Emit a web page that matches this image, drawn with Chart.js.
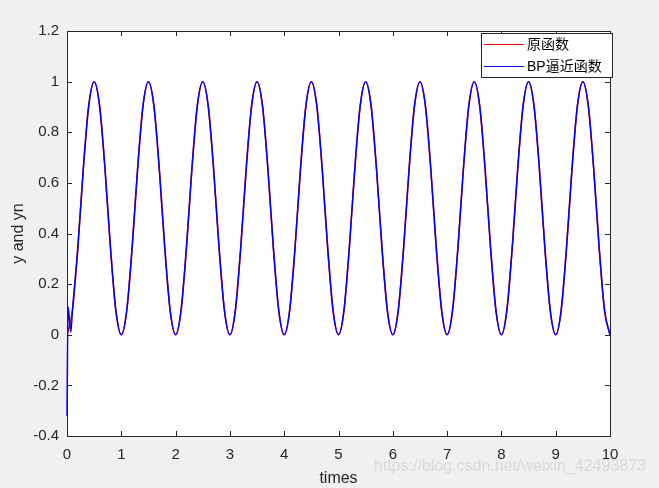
<!DOCTYPE html>
<html>
<head>
<meta charset="utf-8">
<script src="https://cdn.jsdelivr.net/npm/chart.js@4.4.0/dist/chart.umd.min.js"></script>
<style>
  html, body { margin: 0; padding: 0; background: #f0f0f0; }
  #wrap { width: 659px; height: 488px; position: relative; }
</style>
</head>
<body>
<div id="wrap"><canvas id="chart"></canvas></div>
<script>
// sample times (x axis)
const times = [
  0, 0.1, 0.2, 0.3, 0.4, 0.5, 0.6, 0.7, 0.8, 0.9,
  1, 1.1, 1.2, 1.3, 1.4, 1.5, 1.6, 1.7, 1.8, 1.9,
  2, 2.1, 2.2, 2.3, 2.4, 2.5, 2.6, 2.7, 2.8, 2.9,
  3, 3.1, 3.2, 3.3, 3.4, 3.5, 3.6, 3.7, 3.8, 3.9,
  4, 4.1, 4.2, 4.3, 4.4, 4.5, 4.6, 4.7, 4.8, 4.9,
  5, 5.1, 5.2, 5.3, 5.4, 5.5, 5.6, 5.7, 5.8, 5.9,
  6, 6.1, 6.2, 6.3, 6.4, 6.5, 6.6, 6.7, 6.8, 6.9,
  7, 7.1, 7.2, 7.3, 7.4, 7.5, 7.6, 7.7, 7.8, 7.9,
  8, 8.1, 8.2, 8.3, 8.4, 8.5, 8.6, 8.7, 8.8, 8.9,
  9, 9.1, 9.2, 9.3, 9.4, 9.5, 9.6, 9.7, 9.8, 9.9,
  10
];

// original function y (red)
const original = [
  0, 0.095, 0.345, 0.655, 0.905, 1, 0.905, 0.655, 0.345, 0.095,
  0, 0.095, 0.345, 0.655, 0.905, 1, 0.905, 0.655, 0.345, 0.095,
  0, 0.095, 0.345, 0.655, 0.905, 1, 0.905, 0.655, 0.345, 0.095,
  0, 0.095, 0.345, 0.655, 0.905, 1, 0.905, 0.655, 0.345, 0.095,
  0, 0.095, 0.345, 0.655, 0.905, 1, 0.905, 0.655, 0.345, 0.095,
  0, 0.095, 0.345, 0.655, 0.905, 1, 0.905, 0.655, 0.345, 0.095,
  0, 0.095, 0.345, 0.655, 0.905, 1, 0.905, 0.655, 0.345, 0.095,
  0, 0.095, 0.345, 0.655, 0.905, 1, 0.905, 0.655, 0.345, 0.095,
  0, 0.095, 0.345, 0.655, 0.905, 1, 0.905, 0.655, 0.345, 0.095,
  0, 0.095, 0.345, 0.655, 0.905, 1, 0.905, 0.655, 0.345, 0.095,
  0
];

// BP network output (blue): spike at the start, then it follows the original
const bpStartTimes = [0, 0.02, 0.07];
const bpStartValues = [-0.32, 0.11, 0.01];

const seriesNames = ['原函数', 'BP逼近函数'];
const xTickValues = [0, 1, 2, 3, 4, 5, 6, 7, 8, 9, 10];
const yTickValues = [-0.4, -0.2, 0, 0.2, 0.4, 0.6, 0.8, 1, 1.2];

const AXIS = '#262626';
const FONT = '"Liberation Sans", Arial, sans-serif';
const CJK = '"Liberation Sans", "Noto Sans CJK SC", sans-serif';

const originalPts = times.map((t, i) => ({ x: t, y: original[i] }));
const bpPts = bpStartTimes.map((t, i) => ({ x: t, y: bpStartValues[i] }))
  .concat(times.slice(1).map((t, i) => ({ x: t, y: original[i + 1] })));

// white axes box, inward ticks on all four sides, legend and watermark
const matlabLook = {
  id: 'matlabLook',
  beforeDatasetsDraw(chart) {
    const { ctx, chartArea: a, scales } = chart;
    ctx.save();
    ctx.fillStyle = '#ffffff';
    ctx.fillRect(a.left, a.top, a.right - a.left, a.bottom - a.top);
    ctx.strokeStyle = AXIS;
    ctx.lineWidth = 1;
    ctx.strokeRect(Math.round(a.left) + 0.5, Math.round(a.top) + 0.5,
      Math.round(a.right - a.left), Math.round(a.bottom - a.top));
    const tl = 5;
    ctx.beginPath();
    xTickValues.forEach(v => {
      const px = Math.round(scales.x.getPixelForValue(v)) + 0.5;
      ctx.moveTo(px, a.bottom); ctx.lineTo(px, a.bottom - tl);
      ctx.moveTo(px, a.top); ctx.lineTo(px, a.top + tl);
    });
    yTickValues.forEach(v => {
      const py = Math.round(scales.y.getPixelForValue(v)) + 0.5;
      ctx.moveTo(a.left, py); ctx.lineTo(a.left + tl, py);
      ctx.moveTo(a.right, py); ctx.lineTo(a.right - tl, py);
    });
    ctx.stroke();
    ctx.restore();
  },
  afterDraw(chart) {
    const { ctx } = chart;
    ctx.save();
    // legend box
    const lx = 481.5, ly = 33.5, lw = 131, lh = 44;
    ctx.fillStyle = '#ffffff';
    ctx.fillRect(lx, ly, lw, lh);
    ctx.strokeStyle = AXIS;
    ctx.lineWidth = 1;
    ctx.strokeRect(lx, ly, lw, lh);
    ctx.font = '14px ' + CJK;
    ctx.textBaseline = 'middle';
    ctx.textAlign = 'left';
    chart.data.datasets.forEach((ds, i) => {
      const y = 44 + i * 22;
      ctx.strokeStyle = ds.borderColor;
      ctx.beginPath();
      ctx.moveTo(484, y + 0.5); ctx.lineTo(524, y + 0.5);
      ctx.stroke();
      ctx.fillStyle = '#000000';
      ctx.fillText(ds.label, 527, y + 1);
    });

    // watermark
    ctx.font = '16px ' + FONT;
    ctx.fillStyle = 'rgba(210,210,210,0.75)';
    ctx.textAlign = 'right';
    ctx.fillText('https://blog.csdn.net/weixin_42493873', 646, 467);
    ctx.restore();
  }
};

new Chart(document.getElementById('chart'), {
  type: 'line',
  data: {
    datasets: [
      {
        label: seriesNames[0],
        data: originalPts,
        borderColor: '#ff0000',
        borderWidth: 1.5,
        pointRadius: 0,
        cubicInterpolationMode: 'monotone',
        order: 1
      },
      {
        label: seriesNames[1],
        data: bpPts,
        borderColor: '#0000ff',
        borderWidth: 1.5,
        pointRadius: 0,
        cubicInterpolationMode: 'monotone',
        clip: 3,
        order: 0
      }
    ]
  },
  options: {
    responsive: true,
    maintainAspectRatio: false,
    animation: false,
    layout: { padding: { left: 0, top: 31, right: 49, bottom: 0 } },
    plugins: {
      legend: { display: false },
      tooltip: { enabled: false }
    },
    scales: {
      x: {
        type: 'linear',
        min: 0,
        max: 10,
        afterBuildTicks: s => { s.ticks = xTickValues.map(v => ({ value: v })); },
        afterFit: s => { s.height = 52; },
        grid: { display: false, drawTicks: false },
        border: { display: false },
        ticks: { color: AXIS, font: { family: FONT, size: 15 }, padding: 10, maxRotation: 0 },
        title: { display: true, text: 'times', color: AXIS, font: { family: FONT, size: 16 }, padding: { top: 2, bottom: 0 } }
      },
      y: {
        type: 'linear',
        min: -0.4,
        max: 1.2,
        afterBuildTicks: s => { s.ticks = yTickValues.map(v => ({ value: v })); },
        afterFit: s => { s.width = 67; },
        grid: { display: false, drawTicks: false },
        border: { display: false },
        ticks: {
          color: AXIS,
          font: { family: FONT, size: 15 },
          padding: 8,
          callback: v => String(Number(v.toFixed(1)))
        },
        title: { display: true, text: 'y and yn', color: AXIS, font: { family: FONT, size: 16 }, padding: { top: 9, bottom: 0 } }
      }
    }
  },
  plugins: [matlabLook]
});
</script>
</body>
</html>
